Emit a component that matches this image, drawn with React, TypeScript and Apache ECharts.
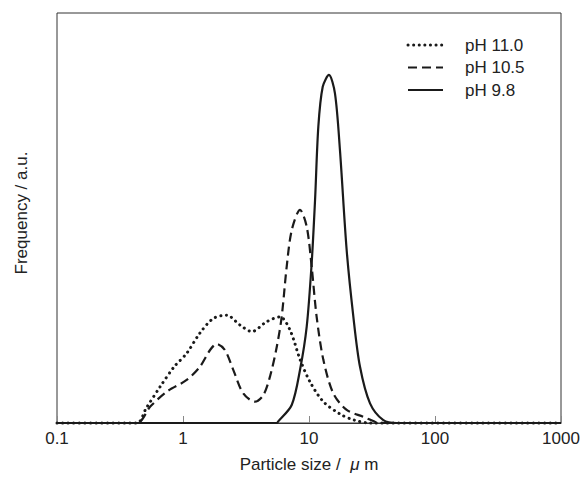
import React, { useEffect, useRef } from "react";
import * as echarts from "echarts";

const sizeDotted = [0.1, 0.43, 0.51, 0.66, 0.85, 1.07, 1.36, 1.74, 2.22, 2.83, 3.51, 4.61, 5.89, 7.06, 8.49, 10.2, 13.0, 17.6, 22.9, 30.5, 1000];
const freqDotted = [0, 0, 3.6, 8.9, 13.7, 17.0, 21.9, 25.5, 26.3, 23.9, 22.3, 24.7, 25.9, 22.7, 15.5, 10.0, 5.2, 2.2, 0.7, 0, 0];

const sizeDashed = [0.1, 0.43, 0.55, 0.74, 1.07, 1.36, 1.64, 1.85, 2.15, 2.51, 3.01, 3.72, 4.34, 4.9, 5.55, 6.07, 6.65, 7.3, 8.49, 9.59, 10.5, 11.5, 13.0, 15.6, 19.9, 27.0, 33.4, 35.5, 1000];
const freqDashed = [0, 0, 4.0, 7.6, 10.5, 13.7, 17.8, 19.3, 17.8, 12.9, 7.2, 5.2, 6.8, 11.3, 18.6, 25.9, 38.1, 47.1, 52.0, 47.9, 38.1, 25.9, 15.4, 7.2, 3.2, 1.5, 0.3, 0, 0];

const sizeSolid = [0.1, 5.55, 5.7, 7.29, 8.49, 9.59, 10.5, 11.17, 11.86, 12.85, 14.4, 16.07, 17.6, 19.9, 22.5, 25.4, 30.5, 38.9, 49.7, 1000];
const freqSolid = [0, 0, 0.4, 4.4, 13.0, 23.5, 39.0, 54.4, 72.3, 82.0, 84.9, 80.4, 66.6, 42.2, 25.9, 13.7, 4.8, 0.7, 0, 0];

const seriesNames = ["pH 11.0", "pH 10.5", "pH 9.8"];
const tickLabels = ["0.1", "1", "10", "100", "1000"];

const FONT = "Liberation Sans, Arial, sans-serif";
const INK = "#1a1a1a";
const TXT = "#222";

const dotStyle = { stroke: INK, lineWidth: 3, lineDash: [0.1, 5.5], lineCap: "round" };
const dashStyle = { stroke: INK, lineWidth: 2.2, lineDash: [9, 5] };
const solidStyle = { stroke: INK, lineWidth: 2.2 };

function pairs(xs: number[], ys: number[]) {
  return xs.map((x, i) => [x, ys[i]]);
}

export default function App() {
  const ref = useRef<HTMLDivElement>(null);
  useEffect(() => {
    if (!ref.current) return;
    document.body.style.margin = "0";
    document.body.style.overflow = "hidden";
    const chart = echarts.init(ref.current, undefined, { renderer: "svg" });
    const common = {
      type: "line",
      showSymbol: false,
      symbol: "none",
      smooth: 0.3,
      clip: false,
      z: 3,
    };
    const legendStyles = [dotStyle, dashStyle, solidStyle];
    const legendY = [45, 67.5, 90];
    const legendGraphics: any[] = [];
    seriesNames.forEach((name, i) => {
      legendGraphics.push({
        type: "line",
        shape: { x1: 408, y1: legendY[i], x2: 443, y2: legendY[i] },
        style: legendStyles[i],
      });
      legendGraphics.push({
        type: "text",
        x: 465,
        y: legendY[i],
        style: {
          text: name,
          fontFamily: FONT,
          fontSize: 17,
          fill: TXT,
          align: "left",
          verticalAlign: "middle",
        },
      });
    });
    chart.setOption({
      animation: false,
      backgroundColor: "#ffffff",
      grid: {
        left: 57,
        right: 23,
        top: 13,
        bottom: 55,
        show: true,
        borderColor: "#333",
        borderWidth: 1,
        containLabel: false,
      },
      xAxis: {
        type: "log",
        logBase: 10,
        min: 0.1,
        max: 1000,
        name: "{a|Particle size /  }{b|\u03bc}{a| m}",
        nameLocation: "middle",
        nameGap: 33,
        nameTextStyle: {
          fontFamily: FONT,
          fontSize: 17,
          color: TXT,
          rich: {
            a: { fontFamily: FONT, fontSize: 17, color: TXT },
            b: { fontFamily: FONT, fontSize: 17, color: TXT, fontStyle: "italic" },
          },
        },
        axisLine: { show: true, lineStyle: { color: "#333", width: 1 } },
        axisTick: { show: true, inside: true, length: 7, lineStyle: { color: "#888" } },
        minorTick: { show: false },
        splitLine: { show: false },
        axisLabel: {
          fontFamily: FONT,
          fontSize: 17,
          color: TXT,
          margin: 7,
          hideOverlap: false,
          formatter: (v: number) => {
            const idx = Math.round(Math.log10(v)) + 1;
            return tickLabels[idx] ?? String(v);
          },
        },
      },
      yAxis: {
        type: "value",
        min: 0,
        max: 100,
        axisLine: { show: false },
        axisTick: { show: false },
        axisLabel: { show: false },
        splitLine: { show: false },
      },
      graphic: [
        {
          type: "text",
          x: 21,
          y: 213,
          rotation: Math.PI / 2,
          style: {
            text: "Frequency / a.u.",
            fontFamily: FONT,
            fontSize: 17,
            fill: TXT,
            align: "center",
            verticalAlign: "middle",
          },
        },
        ...legendGraphics,
      ],
      series: [
        {
          ...common,
          name: seriesNames[0],
          data: pairs(sizeDotted, freqDotted),
          lineStyle: { color: INK, width: 3, type: [0.1, 5.5], cap: "round" },
        },
        {
          ...common,
          name: seriesNames[1],
          data: pairs(sizeDashed, freqDashed),
          lineStyle: { color: INK, width: 2.2, type: [9, 5] },
        },
        {
          ...common,
          name: seriesNames[2],
          data: pairs(sizeSolid, freqSolid),
          lineStyle: { color: INK, width: 2.2, type: "solid" },
        },
      ],
    });
    return () => chart.dispose();
  }, []);
  return <div ref={ref} style={{ width: 584, height: 478 }} />;
}
